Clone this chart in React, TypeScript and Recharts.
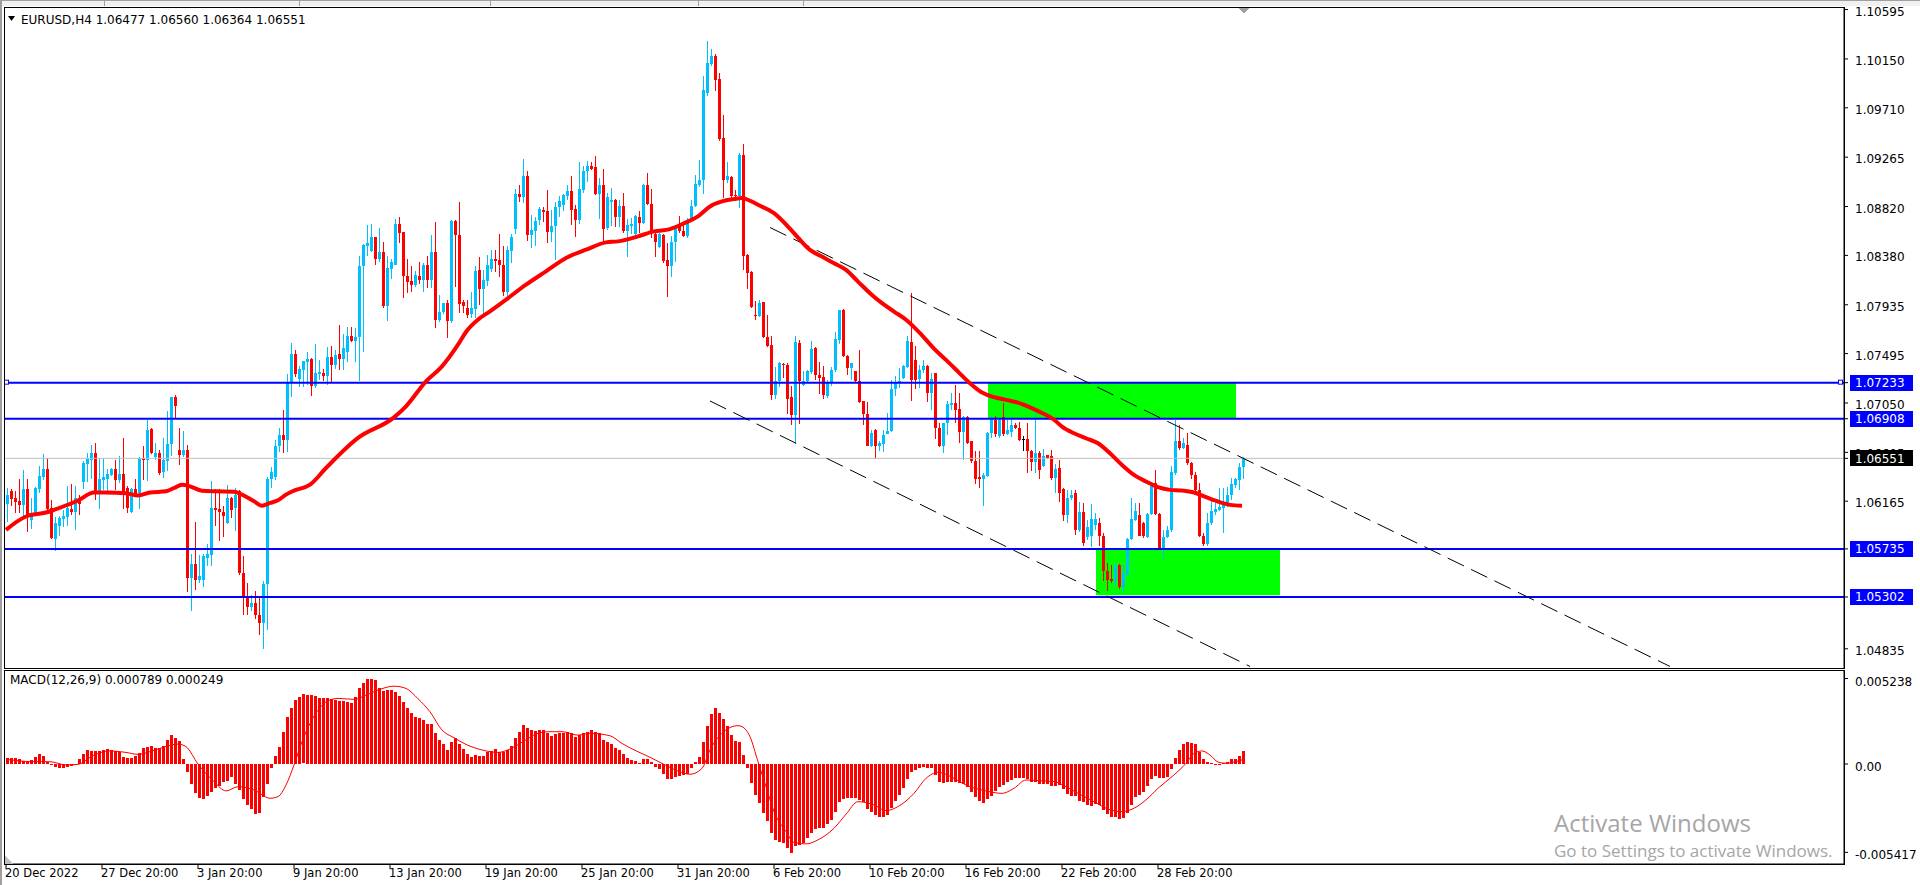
import { ComposedChart, Bar, Line, XAxis, YAxis, ReferenceLine, ReferenceArea } from "recharts";

const FONT = "'DejaVu Sans', sans-serif";
const BULL = "#00bfff";
const BEAR = "#ff0000";

// EURUSD H4 candles
const opens = [
  1.06138, 1.06258, 1.06198, 1.06168, 1.06132, 1.06276, 1.05997, 1.06057, 1.06276, 1.06387,
  1.06456, 1.06102, 1.05826, 1.05946, 1.06009, 1.06027, 1.06093, 1.06072, 1.06192, 1.06342,
  1.06501, 1.06537, 1.06597, 1.06252, 1.06357, 1.06366, 1.06402, 1.06456, 1.06357, 1.06411,
  1.06288, 1.06072, 1.06276, 1.06237, 1.06558, 1.06537, 1.06813, 1.06561, 1.06597, 1.06425,
  1.06530, 1.06680, 1.07103, 1.06629, 1.06584, 1.06629, 1.05474, 1.05603, 1.05453, 1.05459,
  1.05654, 1.05684, 1.06104, 1.06098, 1.06068, 1.05969, 1.06194, 1.06104, 1.06254, 1.05519,
  1.05294, 1.05213, 1.05249, 1.05144, 1.05069, 1.05423, 1.06368, 1.06380, 1.06659, 1.06761,
  1.06713, 1.07229, 1.07493, 1.07265, 1.07343, 1.07415, 1.07448, 1.07200, 1.07311, 1.07320,
  1.07296, 1.07464, 1.07395, 1.07494, 1.07449, 1.07506, 1.07656, 1.07611, 1.07644, 1.08280,
  1.08466, 1.08415, 1.08544, 1.08349, 1.08409, 1.07920, 1.08256, 1.08295, 1.08664, 1.08589,
  1.08196, 1.08145, 1.08115, 1.08196, 1.08154, 1.08295, 1.08154, 1.08409, 1.07800, 1.07866,
  1.07950, 1.07785, 1.08691, 1.08565, 1.07957, 1.07906, 1.07855, 1.07900, 1.08245, 1.08080,
  1.08146, 1.08257, 1.08350, 1.08341, 1.08296, 1.08047, 1.08416, 1.08620, 1.08935, 1.08902,
  1.09097, 1.08566, 1.08602, 1.08701, 1.08791, 1.08776, 1.08587, 1.08641, 1.08812, 1.08836,
  1.08911, 1.08962, 1.08800, 1.08701, 1.08971, 1.09136, 1.09181, 1.09172, 1.08935, 1.09010,
  1.08626, 1.08857, 1.08881, 1.08722, 1.08827, 1.08602, 1.08647, 1.08575, 1.08722, 1.08671,
  1.09010, 1.08845, 1.08575, 1.08455, 1.08566, 1.08335, 1.08281, 1.08497, 1.08635, 1.08596,
  1.08551, 1.08695, 1.08821, 1.09016, 1.09055, 1.09841, 1.10105, 1.10177, 1.09970, 1.09442,
  1.09061, 1.09082, 1.08926, 1.08911, 1.09286, 1.08386, 1.08230, 1.07846, 1.07831, 1.07958,
  1.07649, 1.07574, 1.07118, 1.07244, 1.07403, 1.07394, 1.07100, 1.06938, 1.07589, 1.07214,
  1.07244, 1.07328, 1.07544, 1.07304, 1.07280, 1.07109, 1.07235, 1.07343, 1.07619, 1.07889,
  1.07475, 1.07364, 1.07334, 1.07250, 1.07064, 1.06953, 1.06665, 1.06809, 1.06659, 1.06683,
  1.06773, 1.06794, 1.07175, 1.07235, 1.07274, 1.07370, 1.07603, 1.07440, 1.07264, 1.07348,
  1.07384, 1.07138, 1.07318, 1.06823, 1.06658, 1.06874, 1.07033, 1.07048, 1.06997, 1.06784,
  1.06928, 1.06703, 1.06529, 1.06379, 1.06364, 1.06394, 1.06778, 1.06898, 1.06748, 1.06928,
  1.06772, 1.06793, 1.06853, 1.06829, 1.06727, 1.06727, 1.06619, 1.06517, 1.06598, 1.06478,
  1.06577, 1.06568, 1.06370, 1.06460, 1.06273, 1.06042, 1.06192, 1.06237, 1.05907, 1.06066,
  1.05841, 1.05847, 1.05952, 1.05967, 1.05847, 1.05532, 1.05466, 1.05442, 1.05592, 1.05388,
  1.05502, 1.05823, 1.05997, 1.06042, 1.05967, 1.05841, 1.06048, 1.06327, 1.06051, 1.05742,
  1.05838, 1.05907, 1.06423, 1.06708, 1.06642, 1.06672, 1.06507, 1.06402, 1.06267, 1.05853,
  1.05781, 1.05967, 1.06072, 1.06087, 1.06102, 1.06132, 1.06222, 1.06312, 1.06357, 1.06477,
];

const highs = [
  1.06288, 1.06273, 1.06258, 1.06366, 1.06447, 1.06366, 1.06198, 1.06291, 1.06483, 1.06591,
  1.06552, 1.06177, 1.06027, 1.06033, 1.06087, 1.06303, 1.06318, 1.06303, 1.06222, 1.06528,
  1.06603, 1.06672, 1.06693, 1.06552, 1.06552, 1.06456, 1.06462, 1.06537, 1.06573, 1.06732,
  1.06300, 1.06285, 1.06366, 1.06561, 1.06663, 1.06897, 1.06822, 1.06687, 1.06627, 1.06734,
  1.06980, 1.07108, 1.07124, 1.06824, 1.06800, 1.06668, 1.05693, 1.05975, 1.05684, 1.05693,
  1.05783, 1.06350, 1.06275, 1.06275, 1.06125, 1.06314, 1.06200, 1.06284, 1.06269, 1.05675,
  1.05429, 1.05324, 1.05354, 1.05309, 1.05450, 1.06380, 1.06473, 1.06719, 1.06824, 1.06989,
  1.07313, 1.07589, 1.07529, 1.07379, 1.07430, 1.07508, 1.07455, 1.07584, 1.07434, 1.07356,
  1.07554, 1.07566, 1.07524, 1.07755, 1.07674, 1.07734, 1.07734, 1.07725, 1.08376, 1.08480,
  1.08655, 1.08664, 1.08550, 1.08625, 1.08499, 1.08370, 1.08349, 1.08706, 1.08724, 1.08595,
  1.08349, 1.08280, 1.08241, 1.08319, 1.08310, 1.08376, 1.08565, 1.08685, 1.08025, 1.07955,
  1.07980, 1.08700, 1.08700, 1.08865, 1.07981, 1.07975, 1.08047, 1.08281, 1.08365, 1.08245,
  1.08386, 1.08431, 1.08431, 1.08575, 1.08461, 1.08461, 1.08575, 1.08980, 1.09016, 1.09250,
  1.09142, 1.08746, 1.08725, 1.08815, 1.08815, 1.08971, 1.08791, 1.08857, 1.08911, 1.08935,
  1.09016, 1.09097, 1.08836, 1.09220, 1.09181, 1.09232, 1.09220, 1.09277, 1.09076, 1.09160,
  1.08941, 1.08986, 1.08890, 1.08881, 1.08941, 1.08707, 1.08716, 1.08746, 1.08782, 1.09025,
  1.09121, 1.08977, 1.08602, 1.08580, 1.08575, 1.08491, 1.08551, 1.08656, 1.08731, 1.08662,
  1.08716, 1.08875, 1.09100, 1.09235, 1.10000, 1.10312, 1.10237, 1.10195, 1.10027, 1.09646,
  1.09217, 1.09095, 1.08971, 1.09301, 1.09385, 1.08390, 1.08235, 1.07966, 1.07981, 1.07960,
  1.07844, 1.07655, 1.07370, 1.07418, 1.07409, 1.07409, 1.07199, 1.07655, 1.07619, 1.07334,
  1.07343, 1.07604, 1.07550, 1.07418, 1.07385, 1.07259, 1.07373, 1.07694, 1.07892, 1.07898,
  1.07480, 1.07412, 1.07340, 1.07523, 1.07070, 1.07055, 1.06809, 1.06812, 1.06704, 1.06809,
  1.06959, 1.07259, 1.07289, 1.07364, 1.07394, 1.07655, 1.08039, 1.07560, 1.07393, 1.07438,
  1.07390, 1.07318, 1.07320, 1.06868, 1.06870, 1.07069, 1.07138, 1.07213, 1.07138, 1.06935,
  1.06934, 1.06710, 1.06613, 1.06613, 1.06418, 1.06793, 1.06934, 1.06934, 1.06913, 1.07048,
  1.06913, 1.06928, 1.06868, 1.06883, 1.06748, 1.06868, 1.06625, 1.06958, 1.06613, 1.06634,
  1.06580, 1.06628, 1.06499, 1.06540, 1.06280, 1.06262, 1.06267, 1.06267, 1.06162, 1.06147,
  1.05997, 1.06141, 1.06057, 1.06012, 1.05877, 1.05607, 1.05592, 1.05595, 1.05598, 1.05592,
  1.05830, 1.06198, 1.06147, 1.06147, 1.05982, 1.06057, 1.06312, 1.06447, 1.06057, 1.05907,
  1.05943, 1.06483, 1.06897, 1.06852, 1.06732, 1.06777, 1.06522, 1.06432, 1.06327, 1.05877,
  1.06057, 1.06177, 1.06147, 1.06282, 1.06282, 1.06297, 1.06372, 1.06372, 1.06507, 1.06560,
];

const lows = [
  1.05982, 1.06117, 1.06057, 1.06057, 1.06033, 1.05892, 1.05922, 1.06050, 1.06237, 1.06357,
  1.06087, 1.05823, 1.05721, 1.05856, 1.05937, 1.05943, 1.06042, 1.05907, 1.06042, 1.06276,
  1.06342, 1.06363, 1.06177, 1.06096, 1.06267, 1.06258, 1.06387, 1.06267, 1.06327, 1.06093,
  1.06057, 1.06060, 1.06215, 1.06093, 1.06357, 1.06351, 1.06591, 1.06537, 1.06402, 1.06374,
  1.06443, 1.06575, 1.06914, 1.06488, 1.06563, 1.05339, 1.05183, 1.05363, 1.05429, 1.05399,
  1.05585, 1.05585, 1.05939, 1.05804, 1.05843, 1.05960, 1.06014, 1.05894, 1.05504, 1.05144,
  1.05144, 1.05180, 1.05105, 1.04955, 1.04835, 1.05003, 1.06284, 1.06359, 1.06608, 1.06599,
  1.06614, 1.07103, 1.07289, 1.07193, 1.07199, 1.07214, 1.07109, 1.07190, 1.07254, 1.07245,
  1.07215, 1.07245, 1.07350, 1.07350, 1.07350, 1.07416, 1.07596, 1.07416, 1.07254, 1.07506,
  1.08376, 1.08410, 1.08295, 1.08316, 1.07905, 1.07785, 1.08166, 1.08290, 1.08490, 1.08001,
  1.08046, 1.08046, 1.08094, 1.08124, 1.08046, 1.08085, 1.08085, 1.07734, 1.07785, 1.07860,
  1.07641, 1.07776, 1.08100, 1.07861, 1.07861, 1.07810, 1.07810, 1.07810, 1.07936, 1.07840,
  1.08107, 1.08236, 1.08236, 1.08191, 1.08011, 1.07996, 1.08317, 1.08575, 1.08866, 1.08857,
  1.08515, 1.08446, 1.08461, 1.08656, 1.08677, 1.08497, 1.08506, 1.08335, 1.08722, 1.08782,
  1.08881, 1.08656, 1.08551, 1.08665, 1.08941, 1.09046, 1.09151, 1.08930, 1.08710, 1.08491,
  1.08611, 1.08641, 1.08641, 1.08641, 1.08581, 1.08362, 1.08575, 1.08566, 1.08581, 1.08665,
  1.08836, 1.08536, 1.08371, 1.08446, 1.08311, 1.08005, 1.08185, 1.08320, 1.08581, 1.08545,
  1.08536, 1.08686, 1.08815, 1.08995, 1.08941, 1.09820, 1.10087, 1.09862, 1.09415, 1.08896,
  1.09025, 1.08896, 1.08881, 1.08806, 1.08251, 1.08071, 1.07906, 1.07792, 1.07825, 1.07634,
  1.07553, 1.07079, 1.07079, 1.07190, 1.07274, 1.06953, 1.06848, 1.06680, 1.06860, 1.07199,
  1.07238, 1.07304, 1.07253, 1.07133, 1.07085, 1.07094, 1.07199, 1.07334, 1.07589, 1.07463,
  1.07304, 1.07259, 1.07238, 1.07049, 1.06854, 1.06659, 1.06659, 1.06545, 1.06614, 1.06614,
  1.06770, 1.06790, 1.07109, 1.07184, 1.07265, 1.07364, 1.07063, 1.07170, 1.07183, 1.07318,
  1.07054, 1.06988, 1.06727, 1.06650, 1.06598, 1.06763, 1.06988, 1.06868, 1.06688, 1.06538,
  1.06682, 1.06514, 1.06313, 1.06283, 1.06118, 1.06388, 1.06733, 1.06748, 1.06733, 1.06748,
  1.06763, 1.06748, 1.06814, 1.06715, 1.06613, 1.06418, 1.06433, 1.06418, 1.06358, 1.06470,
  1.06544, 1.06358, 1.06238, 1.06162, 1.05982, 1.05962, 1.06177, 1.05862, 1.05892, 1.05757,
  1.05817, 1.05757, 1.05907, 1.05757, 1.05442, 1.05352, 1.05427, 1.05388, 1.05373, 1.05337,
  1.05493, 1.05817, 1.05982, 1.05847, 1.05841, 1.05832, 1.06042, 1.06042, 1.05733, 1.05643,
  1.05832, 1.05892, 1.06402, 1.06627, 1.06633, 1.06492, 1.06372, 1.06237, 1.05841, 1.05757,
  1.05757, 1.05952, 1.06042, 1.06072, 1.05877, 1.06117, 1.06177, 1.06282, 1.06267, 1.06364,
];

const closes = [
  1.06222, 1.06186, 1.06162, 1.06132, 1.06276, 1.06027, 1.06045, 1.06282, 1.06393, 1.06456,
  1.06096, 1.05829, 1.05967, 1.06012, 1.06033, 1.06102, 1.06072, 1.06195, 1.06141, 1.06507,
  1.06546, 1.06597, 1.06237, 1.06366, 1.06384, 1.06411, 1.06456, 1.06357, 1.06411, 1.06237,
  1.06102, 1.06276, 1.06222, 1.06558, 1.06537, 1.06807, 1.06603, 1.06597, 1.06423, 1.06539,
  1.06680, 1.07103, 1.07025, 1.06584, 1.06629, 1.05474, 1.05603, 1.05453, 1.05489, 1.05669,
  1.05693, 1.06104, 1.06089, 1.06065, 1.06029, 1.06194, 1.06089, 1.06224, 1.05519, 1.05294,
  1.05213, 1.05249, 1.05138, 1.05069, 1.05423, 1.06368, 1.06428, 1.06665, 1.06761, 1.06713,
  1.07229, 1.07493, 1.07313, 1.07355, 1.07424, 1.07448, 1.07199, 1.07320, 1.07329, 1.07296,
  1.07464, 1.07395, 1.07485, 1.07449, 1.07545, 1.07656, 1.07611, 1.07644, 1.08286, 1.08475,
  1.08490, 1.08544, 1.08349, 1.08409, 1.07920, 1.08265, 1.08319, 1.08664, 1.08586, 1.08190,
  1.08136, 1.08115, 1.08205, 1.08154, 1.08295, 1.08154, 1.08409, 1.07800, 1.07869, 1.07950,
  1.07785, 1.08691, 1.08566, 1.07941, 1.07927, 1.07846, 1.07906, 1.08236, 1.08080, 1.08155,
  1.08296, 1.08347, 1.08332, 1.08290, 1.08047, 1.08425, 1.08545, 1.08935, 1.08902, 1.09097,
  1.08566, 1.08611, 1.08692, 1.08800, 1.08767, 1.08587, 1.08647, 1.08815, 1.08872, 1.08920,
  1.08962, 1.08791, 1.08701, 1.08980, 1.09136, 1.09181, 1.09160, 1.08935, 1.09010, 1.08620,
  1.08902, 1.08881, 1.08722, 1.08827, 1.08602, 1.08656, 1.08665, 1.08731, 1.08671, 1.09010,
  1.08845, 1.08596, 1.08497, 1.08575, 1.08326, 1.08281, 1.08500, 1.08635, 1.08596, 1.08551,
  1.08695, 1.08827, 1.09025, 1.09061, 1.09871, 1.10117, 1.10177, 1.09961, 1.09430, 1.09061,
  1.09091, 1.08911, 1.08911, 1.09286, 1.08377, 1.08221, 1.07915, 1.07831, 1.07951, 1.07643,
  1.07559, 1.07118, 1.07244, 1.07409, 1.07391, 1.07088, 1.06938, 1.07595, 1.07244, 1.07250,
  1.07334, 1.07538, 1.07298, 1.07274, 1.07124, 1.07235, 1.07349, 1.07625, 1.07889, 1.07469,
  1.07364, 1.07409, 1.07244, 1.07055, 1.06950, 1.06665, 1.06779, 1.06659, 1.06689, 1.06764,
  1.06800, 1.07175, 1.07235, 1.07244, 1.07379, 1.07604, 1.07258, 1.07260, 1.07348, 1.07387,
  1.07138, 1.07264, 1.06823, 1.06658, 1.06868, 1.07039, 1.07048, 1.06988, 1.06784, 1.06928,
  1.06688, 1.06523, 1.06364, 1.06364, 1.06403, 1.06778, 1.06928, 1.06772, 1.06898, 1.06772,
  1.06808, 1.06853, 1.06823, 1.06718, 1.06727, 1.06613, 1.06517, 1.06598, 1.06448, 1.06574,
  1.06553, 1.06373, 1.06457, 1.06240, 1.06042, 1.06192, 1.06222, 1.05907, 1.06072, 1.05787,
  1.05937, 1.06006, 1.06006, 1.05847, 1.05532, 1.05457, 1.05442, 1.05592, 1.05388, 1.05517,
  1.05823, 1.06006, 1.06081, 1.05853, 1.05847, 1.06051, 1.06303, 1.06051, 1.05742, 1.05838,
  1.05907, 1.06432, 1.06708, 1.06642, 1.06687, 1.06507, 1.06402, 1.06267, 1.05847, 1.05781,
  1.05967, 1.06078, 1.06093, 1.06111, 1.06141, 1.06222, 1.06318, 1.06363, 1.06477, 1.06551,
];

// moving average, sampled where it could be read
const maBars = [
  0, 5, 10, 12, 18, 22, 25, 30, 33, 36, 40, 42, 44, 46, 49, 52, 57, 59, 62, 64,
  66, 68, 70, 72, 76, 80, 88, 97, 100, 105, 109, 113, 115, 118, 121, 125, 130, 135, 140, 145,
  150, 153, 158, 162, 166, 170, 173, 176, 179, 182, 184, 186, 188, 192, 196, 198, 201, 204, 207, 210,
  213, 216, 219, 222, 225, 229, 232, 235, 238, 241, 244, 247, 250, 253, 256, 259, 262, 264, 267, 270,
  273, 276, 279, 282, 285, 288, 291, 294, 297, 300, 303, 306, 309,
];
const maValues = [
  1.05907, 1.06027, 1.06063, 1.06087, 1.06171, 1.06243, 1.06243, 1.06237, 1.06216, 1.06243,
  1.06254, 1.06284, 1.06314, 1.06299, 1.06260, 1.06254, 1.06251, 1.06224, 1.06164, 1.06125,
  1.06149, 1.06173, 1.06224, 1.06260, 1.06314, 1.06464, 1.06735, 1.06920, 1.07020, 1.07245,
  1.07380, 1.07575, 1.07690, 1.07801, 1.07876, 1.07981, 1.08116, 1.08236, 1.08356, 1.08431,
  1.08497, 1.08506, 1.08551, 1.08596, 1.08617, 1.08677, 1.08731, 1.08821, 1.08866, 1.08887,
  1.08896, 1.08872, 1.08836, 1.08760, 1.08620, 1.08540, 1.08429, 1.08369, 1.08309, 1.08249,
  1.08144, 1.08039, 1.07949, 1.07874, 1.07800, 1.07660, 1.07540, 1.07438, 1.07333, 1.07228,
  1.07144, 1.07102, 1.07078, 1.07054, 1.07010, 1.06960, 1.06900, 1.06837, 1.06777, 1.06732,
  1.06687, 1.06597, 1.06492, 1.06402, 1.06342, 1.06291, 1.06267, 1.06261, 1.06243, 1.06201,
  1.06162, 1.06132, 1.06123,
];

// MACD(12,26,9) main values, one per candle
const macdMain = [
  0.00035, 0.00035, 0.00035, 0.00029, 0.00018, 0.00010, 0.00024, 0.00041, 0.00059, 0.00051,
  0.00014, -0.00006, -0.00016, -0.00027, -0.00022, -0.00016, -0.00010, -0.00002, 0.00029, 0.00061,
  0.00084, 0.00080, 0.00080, 0.00080, 0.00086, 0.00090, 0.00086, 0.00082, 0.00075, 0.00041,
  0.00035, 0.00035, 0.00049, 0.00065, 0.00098, 0.00106, 0.00110, 0.00100, 0.00100, 0.00110,
  0.00147, 0.00177, 0.00161, 0.00141, 0.00029, -0.00051, -0.00124, -0.00180, -0.00206, -0.00216,
  -0.00194, -0.00173, -0.00149, -0.00133, -0.00112, -0.00104, -0.00082, -0.00122, -0.00159, -0.00216,
  -0.00251, -0.00275, -0.00308, -0.00302, -0.00200, -0.00122, -0.00027, 0.00051, 0.00106, 0.00198,
  0.00286, 0.00341, 0.00392, 0.00408, 0.00426, 0.00422, 0.00422, 0.00418, 0.00406, 0.00402,
  0.00402, 0.00396, 0.00392, 0.00388, 0.00386, 0.00381, 0.00375, 0.00412, 0.00463, 0.00498,
  0.00520, 0.00520, 0.00514, 0.00463, 0.00449, 0.00453, 0.00453, 0.00443, 0.00418, 0.00377,
  0.00341, 0.00314, 0.00286, 0.00279, 0.00269, 0.00245, 0.00245, 0.00188, 0.00147, 0.00122,
  0.00086, 0.00133, 0.00161, 0.00122, 0.00092, 0.00059, 0.00041, 0.00055, 0.00049, 0.00049,
  0.00071, 0.00080, 0.00092, 0.00071, 0.00075, 0.00086, 0.00110, 0.00161, 0.00198, 0.00239,
  0.00222, 0.00208, 0.00202, 0.00208, 0.00208, 0.00192, 0.00173, 0.00182, 0.00188, 0.00192,
  0.00194, 0.00188, 0.00167, 0.00177, 0.00188, 0.00198, 0.00208, 0.00194, 0.00188, 0.00147,
  0.00137, 0.00122, 0.00100, 0.00086, 0.00061, 0.00035, 0.00024, 0.00020, 0.00008, 0.00031,
  0.00031, 0.00014, -0.00016, -0.00031, -0.00061, -0.00092, -0.00092, -0.00078, -0.00071, -0.00067,
  -0.00063, -0.00027, 0.00010, 0.00041, 0.00133, 0.00233, 0.00306, 0.00341, 0.00314, 0.00275,
  0.00233, 0.00177, 0.00141, 0.00133, 0.00055, -0.00027, -0.00114, -0.00190, -0.00237, -0.00298,
  -0.00349, -0.00420, -0.00465, -0.00481, -0.00486, -0.00512, -0.00543, -0.00500, -0.00496, -0.00486,
  -0.00455, -0.00420, -0.00400, -0.00394, -0.00390, -0.00369, -0.00343, -0.00292, -0.00231, -0.00214,
  -0.00206, -0.00206, -0.00206, -0.00220, -0.00235, -0.00275, -0.00292, -0.00312, -0.00322, -0.00322,
  -0.00312, -0.00267, -0.00226, -0.00190, -0.00149, -0.00092, -0.00047, -0.00037, -0.00027, -0.00016,
  -0.00027, -0.00027, -0.00067, -0.00112, -0.00118, -0.00108, -0.00108, -0.00108, -0.00118, -0.00124,
  -0.00139, -0.00169, -0.00200, -0.00226, -0.00237, -0.00214, -0.00194, -0.00165, -0.00139, -0.00129,
  -0.00112, -0.00098, -0.00088, -0.00084, -0.00084, -0.00092, -0.00108, -0.00112, -0.00122, -0.00122,
  -0.00122, -0.00133, -0.00133, -0.00129, -0.00155, -0.00184, -0.00194, -0.00194, -0.00226, -0.00235,
  -0.00251, -0.00257, -0.00247, -0.00251, -0.00282, -0.00306, -0.00322, -0.00322, -0.00337, -0.00328,
  -0.00298, -0.00251, -0.00204, -0.00190, -0.00173, -0.00133, -0.00092, -0.00071, -0.00084, -0.00084,
  -0.00078, -0.00031, 0.00039, 0.00086, 0.00122, 0.00133, 0.00131, 0.00120, 0.00071, 0.00029,
  0.00010, 0.00004, 0.00000, -0.00002, 0.00004, 0.00014, 0.00029, 0.00029, 0.00050, 0.00079,
];

// signal line, sampled
const sigBars = [
  0, 7, 11, 15, 18, 22, 26, 30, 33, 38, 43, 45, 48, 52, 55, 58, 62, 66, 68, 70,
  72, 74, 76, 78, 80, 83, 87, 90, 93, 97, 100, 103, 106, 109, 112, 115, 119, 123, 126, 129,
  133, 136, 139, 143, 146, 151, 154, 158, 161, 164, 168, 171, 174, 176, 179, 183, 184, 186, 188, 190,
  192, 195, 197, 200, 203, 207, 210, 213, 217, 220, 223, 227, 230, 233, 237, 240, 245, 249, 252, 255,
  258, 262, 265, 268, 272, 275, 279, 282, 285, 288, 292, 295, 297, 299, 301, 303, 305, 307, 309,
];
const sigValues = [
  0.00029, 0.00014, 0.00014, -0.00006, -0.00002, 0.00055, 0.00080, 0.00071, 0.00059, 0.00092,
  0.00122, 0.00106, 0.00000, -0.00108, -0.00165, -0.00139, -0.00159, -0.00210, -0.00200, -0.00129,
  -0.00006, 0.00137, 0.00249, 0.00330, 0.00381, 0.00402, 0.00396, 0.00422, 0.00453, 0.00477,
  0.00463, 0.00400, 0.00320, 0.00208, 0.00161, 0.00120, 0.00086, 0.00071, 0.00092, 0.00133,
  0.00188, 0.00198, 0.00198, 0.00177, 0.00188, 0.00173, 0.00126, 0.00075, 0.00041, 0.00004,
  -0.00043, -0.00063, -0.00027, 0.00086, 0.00188, 0.00235, 0.00229, 0.00167, 0.00014, -0.00139,
  -0.00292, -0.00414, -0.00481, -0.00490, -0.00465, -0.00394, -0.00308, -0.00231, -0.00251, -0.00286,
  -0.00261, -0.00180, -0.00088, -0.00051, -0.00088, -0.00129, -0.00165, -0.00180, -0.00149, -0.00098,
  -0.00102, -0.00108, -0.00139, -0.00180, -0.00231, -0.00271, -0.00292, -0.00271, -0.00220, -0.00149,
  -0.00067, 0.00004, 0.00065, 0.00080, 0.00055, 0.00012, 0.00004, 0.00012, 0.00025,
];

const dateBars = [0, 24, 48, 72, 96, 120, 144, 168, 192, 216, 240, 264, 288];
const dateLabels = [
  "20 Dec 2022", "27 Dec 20:00", "3 Jan 20:00", "9 Jan 20:00", "13 Jan 20:00", "19 Jan 20:00",
  "25 Jan 20:00", "31 Jan 20:00", "6 Feb 20:00", "10 Feb 20:00", "16 Feb 20:00", "22 Feb 20:00",
  "28 Feb 20:00",
];

const priceTicks = [
  1.10595, 1.1015, 1.0971, 1.09265, 1.0882, 1.0838, 1.07935, 1.07495, 1.0705, 1.06605, 1.06165, 1.04835,
];
const levelPrices = [1.07233, 1.06908, 1.05735, 1.05302];
const lastPrice = closes[closes.length - 1];
const macdTicks = [0.005238, 0, -0.005417];

// supply / demand boxes and the channel
const zoneFrom = [246, 273];
const zoneTo = [307, 318];
const zoneTop = [1.07233, 1.05735];
const zoneBottom = [1.06908, 1.05318];
const channelFromBar = [191, 176];
const channelFromPrice = [1.08631, 1.07068];
const channelToBar = [416, 311];
const channelToPrice = [1.04676, 1.04676];

const SLOTS = 460;
const PRICE_MIN = 1.04662;
const PRICE_MAX = 1.10609;
const MACD_MIN = -0.00613;
const MACD_MAX = 0.0057;

const maAt = new Map(maBars.map((b, k) => [b, maValues[k]]));
const sigAt = new Map(sigBars.map((b, k) => [b, sigValues[k]]));

const priceRows = Array.from({ length: SLOTS }, (_, i) => {
  if (i >= closes.length) return { i, range: null, ma: null };
  const o = opens[i];
  const c = closes[i];
  const h = Math.max(highs[i], o, c);
  const l = Math.min(lows[i], o, c);
  return { i, o, h, l, c, range: [l, h], ma: maAt.get(i) ?? null };
});

const macdRows = Array.from({ length: SLOTS }, (_, i) => ({
  i,
  m: i < macdMain.length ? macdMain[i] : null,
  sig: sigAt.get(i) ?? null,
}));

function Candle(props: any) {
  const { x, y, width, height, payload } = props;
  if (!payload || payload.range == null) return <g />;
  const cx = Math.round(x + width / 2);
  const top = Math.min(y, y + height);
  const len = Math.abs(height);
  const k = payload.h > payload.l ? len / (payload.h - payload.l) : 0;
  const yOf = (p: number) => top + (payload.h - p) * k;
  const bTop = Math.round(yOf(Math.max(payload.o, payload.c)));
  const bBot = Math.round(yOf(Math.min(payload.o, payload.c)));
  const color = payload.c > payload.o ? BULL : payload.c < payload.o ? BEAR : "#000";
  return (
    <g shapeRendering="crispEdges">
      <rect x={cx} y={Math.round(top)} width={1} height={Math.max(1, Math.round(len))} fill={color} />
      <rect x={cx - 1} y={bTop} width={3} height={Math.max(1, bBot - bTop)} fill={color} />
    </g>
  );
}

function HistBar(props: any) {
  const { x, y, width, height } = props;
  if (height == null || isNaN(height)) return <g />;
  const cx = Math.round(x + width / 2);
  const top = Math.round(Math.min(y, y + height));
  return (
    <rect x={cx - 1} y={top} width={3} height={Math.max(1, Math.round(Math.abs(height)))} fill="#ff0000" shapeRendering="crispEdges" />
  );
}

function PriceTick(props: any) {
  const { x, y, payload } = props;
  const v: number = payload.value;
  const label = v.toFixed(5);
  const boxed = levelPrices.includes(v) || v === lastPrice;
  if (boxed) {
    return (
      <g>
        <rect x={x - 5} y={Math.round(y) - 8} width={63} height={16} fill={v === lastPrice ? "#000" : "#0000ff"} />
        <text x={x} y={y} dy={4.5} fill="#fff" fontSize={12} fontFamily={FONT}>
          {label}
        </text>
      </g>
    );
  }
  return (
    <text x={x} y={y} dy={6} fill="#000" fontSize={12} fontFamily={FONT}>
      {label}
    </text>
  );
}

function MacdTick(props: any) {
  const { x, y, payload } = props;
  const v: number = payload.value;
  return (
    <text x={x} y={y} dy={7} fill="#000" fontSize={12} fontFamily={FONT}>
      {v === 0 ? "0.00" : v.toFixed(6)}
    </text>
  );
}

function DateTick(props: any) {
  const { x, y, payload } = props;
  const k = dateBars.indexOf(payload.value);
  return (
    <text x={x - 1} y={y} dy={8} fill="#000" fontSize={11.5} fontFamily={FONT}>
      {k >= 0 ? dateLabels[k] : ""}
    </text>
  );
}

function LineHandles(props: any) {
  const vb = props.viewBox;
  if (!vb) return null;
  return (
    <g>
      <rect x={vb.x + 0.5} y={vb.y - 2.5} width={4} height={4} fill="#fff" stroke="#0000ff" />
      <rect x={vb.x + vb.width - 5.5} y={vb.y - 2.5} width={4} height={4} fill="#fff" stroke="#0000ff" />
    </g>
  );
}

export default function App() {
  return (
    <div
      style={{
        position: "absolute",
        left: 0,
        top: 0,
        width: 1920,
        height: 885,
        background: "#fff",
        overflow: "hidden",
        fontFamily: FONT,
      }}
    >
      <div style={{ position: "absolute", left: 0, top: 0 }}>
        <ComposedChart width={1920} height={669} data={priceRows} margin={{ top: 8, right: 0, bottom: 1, left: 4 }}>
          <XAxis dataKey="i" hide />
          <YAxis
            orientation="right"
            type="number"
            domain={[PRICE_MIN, PRICE_MAX]}
            allowDataOverflow
            ticks={[...priceTicks, ...levelPrices, lastPrice]}
            interval={0}
            width={76}
            tickSize={4}
            tickMargin={7}
            axisLine={{ stroke: "#000" }}
            tickLine={{ stroke: "#000" }}
            tick={(p: any) => <PriceTick {...p} />}
          />
          {zoneFrom.map((x1, k) => (
            <ReferenceArea
              key={"z" + k}
              x1={x1}
              x2={zoneTo[k]}
              y1={zoneBottom[k]}
              y2={zoneTop[k]}
              fill="#00ff00"
              fillOpacity={1}
              stroke="none"
            />
          ))}
          <ReferenceLine y={lastPrice} stroke="#c0c0c0" strokeWidth={1} />
          {levelPrices.map((p, k) => (
            <ReferenceLine
              key={"l" + k}
              y={p}
              stroke="#0000ff"
              strokeWidth={2}
              label={k === 0 ? <LineHandles /> : undefined}
            />
          ))}
          {channelFromBar.map((b, k) => (
            <ReferenceLine
              key={"c" + k}
              segment={[
                { x: b, y: channelFromPrice[k] },
                { x: channelToBar[k], y: channelToPrice[k] },
              ]}
              stroke="#000"
              strokeWidth={1}
              strokeDasharray="18 8"
            />
          ))}
          <Bar dataKey="range" barSize={3} shape={(p: any) => <Candle {...p} />} isAnimationActive={false} />
          <Line
            dataKey="ma"
            type="monotone"
            stroke="#ff0000"
            strokeWidth={4}
            dot={false}
            connectNulls
            isAnimationActive={false}
          />
        </ComposedChart>
      </div>

      <div style={{ position: "absolute", left: 0, top: 670 }}>
        <ComposedChart width={1920} height={215} data={macdRows} margin={{ top: 1, right: 0, bottom: 0, left: 4 }}>
          <XAxis
            dataKey="i"
            ticks={dateBars}
            interval={0}
            height={21}
            tickSize={5}
            tickMargin={0}
            axisLine={{ stroke: "#000" }}
            tickLine={{ stroke: "#000" }}
            tick={(p: any) => <DateTick {...p} />}
          />
          <YAxis
            orientation="right"
            type="number"
            domain={[MACD_MIN, MACD_MAX]}
            allowDataOverflow
            ticks={macdTicks}
            interval={0}
            width={76}
            tickSize={4}
            tickMargin={7}
            axisLine={{ stroke: "#000" }}
            tickLine={{ stroke: "#000" }}
            tick={(p: any) => <MacdTick {...p} />}
          />
          <Bar dataKey="m" barSize={3} shape={(p: any) => <HistBar {...p} />} isAnimationActive={false} />
          <Line
            dataKey="sig"
            type="monotone"
            stroke="#ff0000"
            strokeWidth={1}
            dot={false}
            connectNulls
            isAnimationActive={false}
          />
        </ComposedChart>
      </div>

      <svg
        width={1920}
        height={885}
        style={{ position: "absolute", left: 0, top: 0, pointerEvents: "none" }}
        shapeRendering="crispEdges"
      >
        <rect x={0} y={0} width={1920} height={6} fill="#f0f0f0" />
        <line x1={0} y1={0.5} x2={1920} y2={0.5} stroke="#a0a0a0" />
        {[104, 299, 490, 698, 803].map((sx) => (
          <line key={sx} x1={sx + 0.5} y1={0} x2={sx + 0.5} y2={6} stroke="#a0a0a0" />
        ))}
        <rect x={0} y={0} width={2} height={885} fill="#a0a0a0" />
        <rect x={4.5} y={7.5} width={1840} height={661} fill="none" stroke="#000" />
        <rect x={4.5} y={670.5} width={1840} height={194} fill="none" stroke="#000" />
        <polygon points="1238,8 1249,8 1243.5,13.5" fill="#a0a0a0" />
        <polygon points="5,856 5,864 13,864" fill="#c0c0c0" />
        <polygon points="8,16 15,16 11.5,21" fill="#000" shapeRendering="auto" />
        <text x={21} y={24} fontSize={12} fontFamily={FONT} fill="#000">
          EURUSD,H4  1.06477 1.06560 1.06364 1.06551
        </text>
        <text x={10} y={684} fontSize={12} fontFamily={FONT} fill="#000">
          MACD(12,26,9) 0.000789 0.000249
        </text>
        <text x={1554} y={832} fontSize={24} fontFamily="'Open Sans', sans-serif" fill="#a6a6a6" shapeRendering="auto">
          Activate Windows
        </text>
        <text x={1554} y={857} fontSize={17} fontFamily="'Open Sans', sans-serif" fill="#a6a6a6" shapeRendering="auto">
          Go to Settings to activate Windows.
        </text>
      </svg>
    </div>
  );
}
